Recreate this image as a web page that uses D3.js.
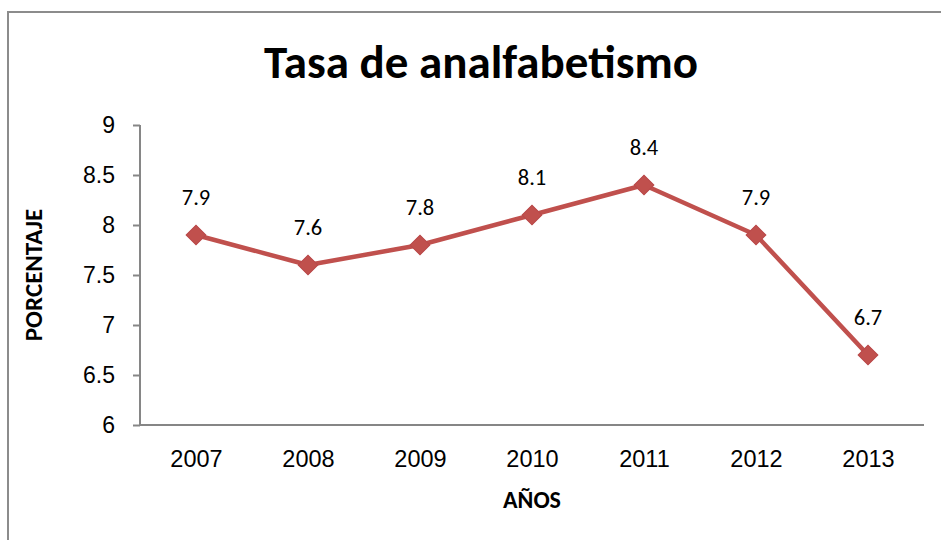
<!DOCTYPE html>
<html>
<head>
<meta charset="utf-8">
<script src="https://cdn.jsdelivr.net/npm/d3@7"></script>
<style>
    body { margin: 0; background: #fff; }
    svg { display: block; font-family: Calibri, Carlito, Lato, sans-serif; }
</style>
</head>
<body>
<div class="chart"></div>
<script>
// data
const years = ['2007', '2008', '2009', '2010', '2011', '2012', '2013'];
const rates = [7.9, 7.6, 7.8, 8.1, 8.4, 7.9, 6.7];
const yTicks = [6, 6.5, 7, 7.5, 8, 8.5, 9];

const width = 941, height = 540;
const red = '#C0504D';
const axisGrey = '#868686';

const svg = d3.select('.chart')
    .append('svg')
    .attr('width', width)
    .attr('height', height);

// outer frame of the chart area (runs off the right and bottom edge)
svg.append('rect')
    .attr('x', 8)
    .attr('y', 12)
    .attr('width', 960)
    .attr('height', 560)
    .attr('fill', 'none')
    .attr('stroke', '#8c8c8c')
    .attr('stroke-width', 2);

const x = d3.scalePoint()
    .domain(years)
    .range([140, 924])
    .padding(0.5);

const y = d3.scaleLinear()
    .domain([6, 9])
    .range([425, 125]);

// title
svg.append('text')
    .attr('x', 481)
    .attr('y', 78)
    .attr('text-anchor', 'middle')
    .style('font-size', '47px')
    .style('font-weight', 'bold')
    .text('Tasa de analfabetismo');

// y axis
const yAxis = svg.append('g')
    .attr('transform', 'translate(140,0)')
    .call(d3.axisLeft(y).tickValues(yTicks).tickSize(7).tickPadding(18)
        .tickFormat(d => d3.format('')(d)));
yAxis.select('.domain').attr('stroke', axisGrey).attr('stroke-width', 2)
    .attr('d', 'M0,125V426');
yAxis.selectAll('.tick line').attr('stroke', axisGrey).attr('stroke-width', 2);
yAxis.selectAll('.tick text')
    .attr('fill', '#000')
    .style('font-size', '23px')
    .style('font-family', 'inherit');

// x axis (no tick marks)
const xAxis = svg.append('g')
    .attr('transform', 'translate(0,425)')
    .call(d3.axisBottom(x).tickSize(0).tickPadding(25));
xAxis.select('.domain').attr('stroke', axisGrey).attr('stroke-width', 2)
    .attr('d', 'M139,0H924');
xAxis.selectAll('.tick text')
    .attr('fill', '#000')
    .style('font-size', '23.5px')
    .style('font-family', 'inherit');

// axis titles
svg.append('text')
    .attr('transform', `translate(42,${y(7.5)}) rotate(-90)`)
    .attr('text-anchor', 'middle')
    .style('font-size', '25px')
    .style('font-weight', 'bold')
    .text('PORCENTAJE');

svg.append('text')
    .attr('x', x('2010'))
    .attr('y', 508)
    .attr('text-anchor', 'middle')
    .style('font-size', '24px')
    .style('font-weight', 'bold')
    .text('AÑOS');

const points = years.map((yr, i) => ({ year: yr, value: rates[i] }));

const line = d3.line()
    .x(d => x(d.year))
    .y(d => y(d.value));

svg.append('path')
    .datum(points)
    .attr('d', line)
    .attr('fill', 'none')
    .attr('stroke', red)
    .attr('stroke-width', 4.5)
    .attr('stroke-linejoin', 'round');

// diamond markers
svg.selectAll('rect.marker')
    .data(points)
    .join('rect')
    .attr('class', 'marker')
    .attr('x', -7)
    .attr('y', -7)
    .attr('width', 14)
    .attr('height', 14)
    .attr('transform', d => `translate(${x(d.year)},${y(d.value)}) rotate(45)`)
    .attr('fill', red)
    .attr('stroke', '#b9494a')
    .attr('stroke-width', 1);

// value labels above the points
svg.selectAll('text.value')
    .data(points)
    .join('text')
    .attr('class', 'value')
    .attr('x', d => x(d.year))
    .attr('y', d => y(d.value) - 30)
    .attr('text-anchor', 'middle')
    .style('font-size', '22.5px')
    .text(d => d.value.toFixed(1));
</script>
</body>
</html>
